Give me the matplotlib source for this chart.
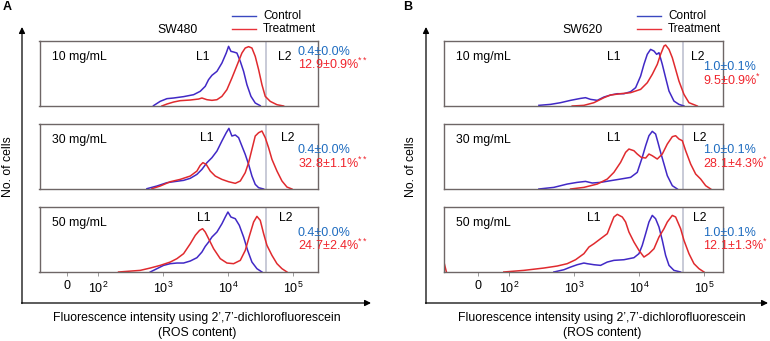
import matplotlib
matplotlib.use('Agg')
import matplotlib.pyplot as plt
import numpy as np
from matplotlib.lines import Line2D

plt.rcParams['font.family'] = ['Liberation Sans', 'DejaVu Sans']
plt.rcParams['mathtext.fontset'] = 'custom'
plt.rcParams['mathtext.rm'] = 'Liberation Sans'
plt.rcParams['mathtext.default'] = 'regular'

# histogram outlines: x = log10(fluorescence), y = relative cell count
# panel A (SW480)
a10_ctrl_x = [2.85, 2.954, 3.057, 3.159, 3.313, 3.467, 3.569, 3.646, 3.697, 3.749, 3.826, 3.903, 3.969, 4.005, 4.041, 4.082, 4.133, 4.185, 4.236, 4.287, 4.349, 4.415, 4.492]
a10_ctrl_y = [0.5, 7.2, 11.3, 12.3, 14.4, 17.4, 22.6, 30.3, 40.5, 47.2, 53.3, 66.2, 81.5, 91.8, 84.1, 83.1, 81.5, 68.7, 53.3, 32.8, 14.9, 4.6, 0.5]
a10_trt_x = [2.979, 3.056, 3.159, 3.261, 3.415, 3.543, 3.595, 3.672, 3.749, 3.826, 3.902, 3.979, 4.056, 4.108, 4.159, 4.21, 4.261, 4.313, 4.364, 4.415, 4.467, 4.518, 4.569, 4.646, 4.749, 4.851]
a10_trt_y = [0, 3.0, 6.1, 8.2, 9.2, 10.7, 12.3, 9.7, 8.7, 9.7, 14.8, 25.1, 43.0, 55.9, 68.7, 81.5, 89.2, 91.3, 89.2, 76.4, 55.9, 32.8, 14.8, 7.1, 2.0, 0]

a30_ctrl_x = [2.749, 2.903, 3.056, 3.159, 3.313, 3.415, 3.518, 3.595, 3.672, 3.749, 3.826, 3.902, 3.969, 4.01, 4.056, 4.108, 4.159, 4.21, 4.261, 4.313, 4.364, 4.415, 4.467, 4.544]
a30_ctrl_y = [0.5, 4.6, 9.7, 11.2, 13.3, 16.4, 22.5, 30.2, 40.5, 48.2, 58.4, 73.8, 86.6, 93.3, 81.5, 83.1, 79.0, 66.1, 53.3, 37.9, 20.0, 7.1, 2.0, 0]
a30_trt_x = [2.826, 2.954, 3.108, 3.261, 3.415, 3.518, 3.569, 3.61, 3.661, 3.723, 3.8, 3.902, 4.005, 4.108, 4.185, 4.261, 4.313, 4.364, 4.415, 4.467, 4.518, 4.569, 4.62, 4.672, 4.749, 4.826, 4.903, 4.979]
a30_trt_y = [0.5, 4.6, 11.2, 14.8, 19.9, 27.6, 36.4, 40.5, 37.9, 27.6, 19.9, 14.8, 11.2, 8.7, 12.3, 25.1, 40.5, 61.0, 81.5, 86.6, 89.2, 79.0, 63.6, 45.6, 27.6, 12.3, 3.0, 0]

a50_ctrl_x = [2.8, 2.903, 3.005, 3.108, 3.21, 3.313, 3.416, 3.518, 3.595, 3.646, 3.698, 3.749, 3.826, 3.903, 3.954, 3.995, 4.041, 4.108, 4.17, 4.236, 4.298, 4.364, 4.441, 4.518]
a50_ctrl_y = [0, 5.1, 10.2, 12.8, 13.8, 13.8, 16.9, 22.0, 30.7, 39.4, 46.1, 53.8, 61.5, 74.3, 84.6, 92.3, 84.6, 82.0, 71.8, 53.8, 33.3, 15.3, 5.1, 0]
a50_trt_x = [2.313, 2.646, 2.8, 2.954, 3.108, 3.21, 3.313, 3.416, 3.493, 3.559, 3.605, 3.646, 3.698, 3.775, 3.877, 3.98, 4.082, 4.185, 4.262, 4.328, 4.39, 4.441, 4.492, 4.544, 4.595, 4.672, 4.749, 4.826, 4.903]
a50_trt_y = [0, 2.5, 6.1, 10.2, 15.3, 20.5, 28.2, 43.5, 56.4, 64.1, 66.6, 61.5, 51.2, 35.8, 20.5, 13.8, 12.8, 17.9, 33.3, 56.4, 76.9, 85.6, 79.5, 58.9, 41.0, 25.6, 12.8, 5.1, 0]

# panel B (SW620)
b10_ctrl_x = [2.462, 2.641, 2.795, 2.949, 3.103, 3.179, 3.256, 3.359, 3.462, 3.564, 3.667, 3.769, 3.872, 3.949, 4.026, 4.077, 4.128, 4.179, 4.231, 4.272, 4.308, 4.359, 4.41, 4.462, 4.538, 4.615, 4.692]
b10_ctrl_y = [1.0, 2.5, 5.1, 8.7, 11.7, 12.8, 10.2, 8.7, 13.8, 16.9, 18.9, 18.9, 22.0, 28.2, 46.1, 64.1, 79.5, 87.1, 84.6, 79.5, 82.0, 64.1, 43.5, 23.0, 7.6, 2.5, 0]
b10_trt_x = [2.974, 3.154, 3.308, 3.462, 3.564, 3.718, 3.872, 4.026, 4.128, 4.205, 4.282, 4.333, 4.385, 4.41, 4.462, 4.513, 4.564, 4.615, 4.692, 4.769, 4.897]
b10_trt_y = [0, 1.0, 5.1, 12.8, 16.9, 18.9, 20.5, 25.6, 35.8, 48.7, 64.1, 79.5, 92.3, 93.8, 87.1, 74.3, 56.4, 38.4, 17.9, 5.1, 0]

b30_ctrl_x = [2.462, 2.692, 2.897, 3.051, 3.179, 3.282, 3.41, 3.564, 3.718, 3.872, 3.974, 4.051, 4.103, 4.154, 4.205, 4.256, 4.292, 4.333, 4.385, 4.436, 4.513, 4.59]
b30_ctrl_y = [0, 2.5, 7.6, 10.2, 11.7, 9.2, 10.2, 12.8, 15.3, 17.9, 25.6, 48.7, 66.6, 82.0, 88.7, 84.6, 71.8, 56.4, 38.4, 20.5, 5.1, 0]
b30_trt_x = [2.949, 3.154, 3.359, 3.513, 3.615, 3.718, 3.795, 3.846, 3.923, 3.974, 4.036, 4.103, 4.154, 4.205, 4.282, 4.359, 4.436, 4.513, 4.564, 4.615, 4.667, 4.718, 4.795, 4.872, 4.949, 5.026, 5.103]
b30_trt_y = [0, 2.5, 7.6, 15.3, 25.6, 41.0, 56.4, 61.5, 58.9, 53.8, 48.7, 47.6, 53.8, 51.2, 46.1, 53.8, 69.2, 80.5, 82.0, 76.9, 74.3, 58.9, 38.4, 23.0, 15.3, 5.1, 0]

b50_ctrl_x = [2.692, 2.846, 2.949, 3.051, 3.154, 3.205, 3.308, 3.41, 3.513, 3.615, 3.769, 3.923, 4.0, 4.051, 4.103, 4.154, 4.205, 4.256, 4.308, 4.359, 4.41, 4.462, 4.538, 4.641]
b50_ctrl_y = [0, 3.5, 7.6, 11.2, 13.8, 12.8, 11.2, 10.2, 15.3, 17.9, 18.9, 22.0, 28.2, 41.0, 58.9, 76.9, 87.1, 82.0, 69.2, 48.7, 25.6, 10.2, 2.5, 0]
b50_trt_x = [1.923, 2.231, 2.538, 2.744, 2.897, 3.026, 3.154, 3.231, 3.308, 3.41, 3.513, 3.564, 3.615, 3.667, 3.744, 3.795, 3.846, 3.923, 4.0, 4.077, 4.154, 4.231, 4.308, 4.385, 4.436, 4.513, 4.564, 4.641, 4.692, 4.769, 4.846, 4.923, 5.0]
b50_trt_y = [0, 2.5, 6.1, 9.2, 12.8, 18.9, 28.2, 38.4, 43.5, 51.2, 58.9, 71.8, 84.6, 88.7, 84.6, 76.9, 61.5, 46.1, 33.3, 23.0, 28.2, 35.8, 53.8, 66.6, 76.9, 87.1, 84.6, 66.6, 48.7, 28.2, 12.8, 5.1, 0]
# events piled at the negative (off-scale) end
b50_trt_edge_x = [-110, -101]
b50_trt_edge_y = [15, 0]

doses = ['10 mg/mL', '30 mg/mL', '50 mg/mL']
a_ctrl_pct = ['0.4±0.0%', '0.4±0.0%', '0.4±0.0%']
a_trt_pct = ['12.9±0.9%', '32.8±1.1%', '24.7±2.4%']
b_ctrl_pct = ['1.0±0.1%', '1.0±0.1%', '1.0±0.1%']
b_trt_pct = ['9.5±0.9%', '28.1±4.3%', '12.1±1.3%']
a_sig = '**'
b_sig = '*'
tick_vals = [0, 1e2, 1e3, 1e4, 1e5]
tick_labels = ['0', '$10^2$', '$10^3$', '$10^4$', '$10^5$']

c_ctrl = '#4129c6'
c_trt = '#e02a2e'
c_ctrl_txt = '#1e6cc0'
c_trt_txt = '#f0242c'
c_box = '#6e6666'
c_gate = '#b9bccd'
fs = 8.8

W, H = 770, 341
fig = plt.figure(figsize=(7.7, 3.41), dpi=100)

panels = [
    dict(letter='A', cell='SW480', x0=39.5, x1=318, xlim=(-89, 2.4e5), gate=10 ** 4.585,
         curves=[(a10_ctrl_x, a10_ctrl_y, a10_trt_x, a10_trt_y),
                 (a30_ctrl_x, a30_ctrl_y, a30_trt_x, a30_trt_y),
                 (a50_ctrl_x, a50_ctrl_y, a50_trt_x, a50_trt_y)],
         ctrl_pct=a_ctrl_pct, trt_pct=a_trt_pct, sig=a_sig,
         l1=[(203, 57), (207, 138), (204, 218)], l2=[(285, 57), (288, 138), (286, 218)],
         pct_x=298, pct_y=[(52, 64), (150, 163), (233, 245)],
         ax_x=22, arrow_end=371, legend_x=232, cell_x=178, xlab_x=197, ylab_x=8, letter_x=3),
    dict(letter='B', cell='SW620', x0=444, x1=723, xlim=(-110, 1.96e5), gate=10 ** 4.67,
         curves=[(b10_ctrl_x, b10_ctrl_y, b10_trt_x, b10_trt_y),
                 (b30_ctrl_x, b30_ctrl_y, b30_trt_x, b30_trt_y),
                 (b50_ctrl_x, b50_ctrl_y, b50_trt_x, b50_trt_y)],
         ctrl_pct=b_ctrl_pct, trt_pct=b_trt_pct, sig=b_sig,
         l1=[(614, 57), (614, 138), (594, 218)], l2=[(698, 57), (700, 138), (700, 218)],
         pct_x=703, pct_y=[(67, 80), (150, 163), (233, 245)],
         ax_x=426, arrow_end=768, legend_x=637, cell_x=583, xlab_x=602, ylab_x=411, letter_x=403),
]
rows = [(41, 106), (124, 189), (207, 272)]

for p in panels:
    for i, (y0, y1) in enumerate(rows):
        ax = fig.add_axes([p['x0'] / W, 1 - y1 / H, (p['x1'] - p['x0']) / W, (y1 - y0) / H])
        ax.set_xscale('symlog', linthresh=100, linscale=0.43)
        ax.set_xlim(*p['xlim'])
        ax.set_ylim(0, 100)
        cx, cy, tx, ty = p['curves'][i]
        ax.plot(10 ** np.array(cx), cy, color=c_ctrl, lw=1.1, solid_joinstyle='round')
        ax.plot(10 ** np.array(tx), ty, color=c_trt, lw=1.1, solid_joinstyle='round')
        if p['letter'] == 'B' and i == 2:
            ax.plot(b50_trt_edge_x, b50_trt_edge_y, color=c_trt, lw=1.1)
        ax.axvline(p['gate'], color=c_gate, lw=1.1, zorder=1)
        for s in ax.spines.values():
            s.set_color(c_box)
            s.set_linewidth(1.0)
        ax.set_yticks([])
        ax.xaxis.set_minor_locator(matplotlib.ticker.NullLocator())
        if i == 2:
            ax.set_xticks(tick_vals)
            ax.set_xticklabels(tick_labels, fontsize=9)
            ax.tick_params(axis='x', length=3, width=0.7, color='#999999', pad=3)
        else:
            ax.set_xticks([])

ov = fig.add_axes([0, 0, 1, 1])
ov.set_xlim(0, W)
ov.set_ylim(H, 0)
ov.axis('off')

for p in panels:
    ov.text(p['letter_x'], 7, p['letter'], fontsize=9, fontweight='bold', va='center', ha='left')
    ov.text(p['cell_x'], 30, p['cell'], fontsize=fs, va='center', ha='center')
    # axis arrows
    ov.annotate('', xy=(p['ax_x'], 27), xytext=(p['ax_x'], 303.5),
                arrowprops=dict(arrowstyle='-|>', color='k', lw=0.9, mutation_scale=9,
                                shrinkA=0, shrinkB=0))
    ov.annotate('', xy=(p['arrow_end'], 303), xytext=(p['ax_x'] - 0.5, 303),
                arrowprops=dict(arrowstyle='-|>', color='k', lw=0.9, mutation_scale=9,
                                shrinkA=0, shrinkB=0))
    ov.text(p['ylab_x'], 167, 'No. of cells', fontsize=fs, rotation=90, va='center', ha='center')
    ov.text(p['xlab_x'], 318, 'Fluorescence intensity using 2\u2019,7\u2019-dichlorofluorescein',
            fontsize=fs, va='center', ha='center')
    ov.text(p['xlab_x'], 333, '(ROS content)', fontsize=fs, va='center', ha='center')
    # legend
    lx = p['legend_x']
    ov.add_line(Line2D([lx, lx + 24], [16, 16], color='#3a48c0', lw=1.0))
    ov.add_line(Line2D([lx, lx + 24], [29, 29], color='#e8323a', lw=1.0))
    ov.text(lx + 31, 16, 'Control', fontsize=8.5, va='center', ha='left')
    ov.text(lx + 31, 29, 'Treatment', fontsize=8.5, va='center', ha='left')
    for i, (y0, y1) in enumerate(rows):
        lab_y = [57, 140, 223][i]
        ov.text(p['x0'] + 12, lab_y, doses[i], fontsize=fs, va='center', ha='left')
        ov.text(*p['l1'][i], 'L1', fontsize=fs, va='center', ha='center')
        ov.text(*p['l2'][i], 'L2', fontsize=fs, va='center', ha='center')
        by, ry = p['pct_y'][i]
        ov.text(p['pct_x'], by, p['ctrl_pct'][i], fontsize=9, color=c_ctrl_txt, va='center', ha='left')
        ov.text(p['pct_x'], ry, p['trt_pct'][i] + '$^{' + p['sig'] + '}$', fontsize=9,
                color=c_trt_txt, va='center', ha='left')

fig.savefig('out.png', dpi=100)
plt.close(fig)
